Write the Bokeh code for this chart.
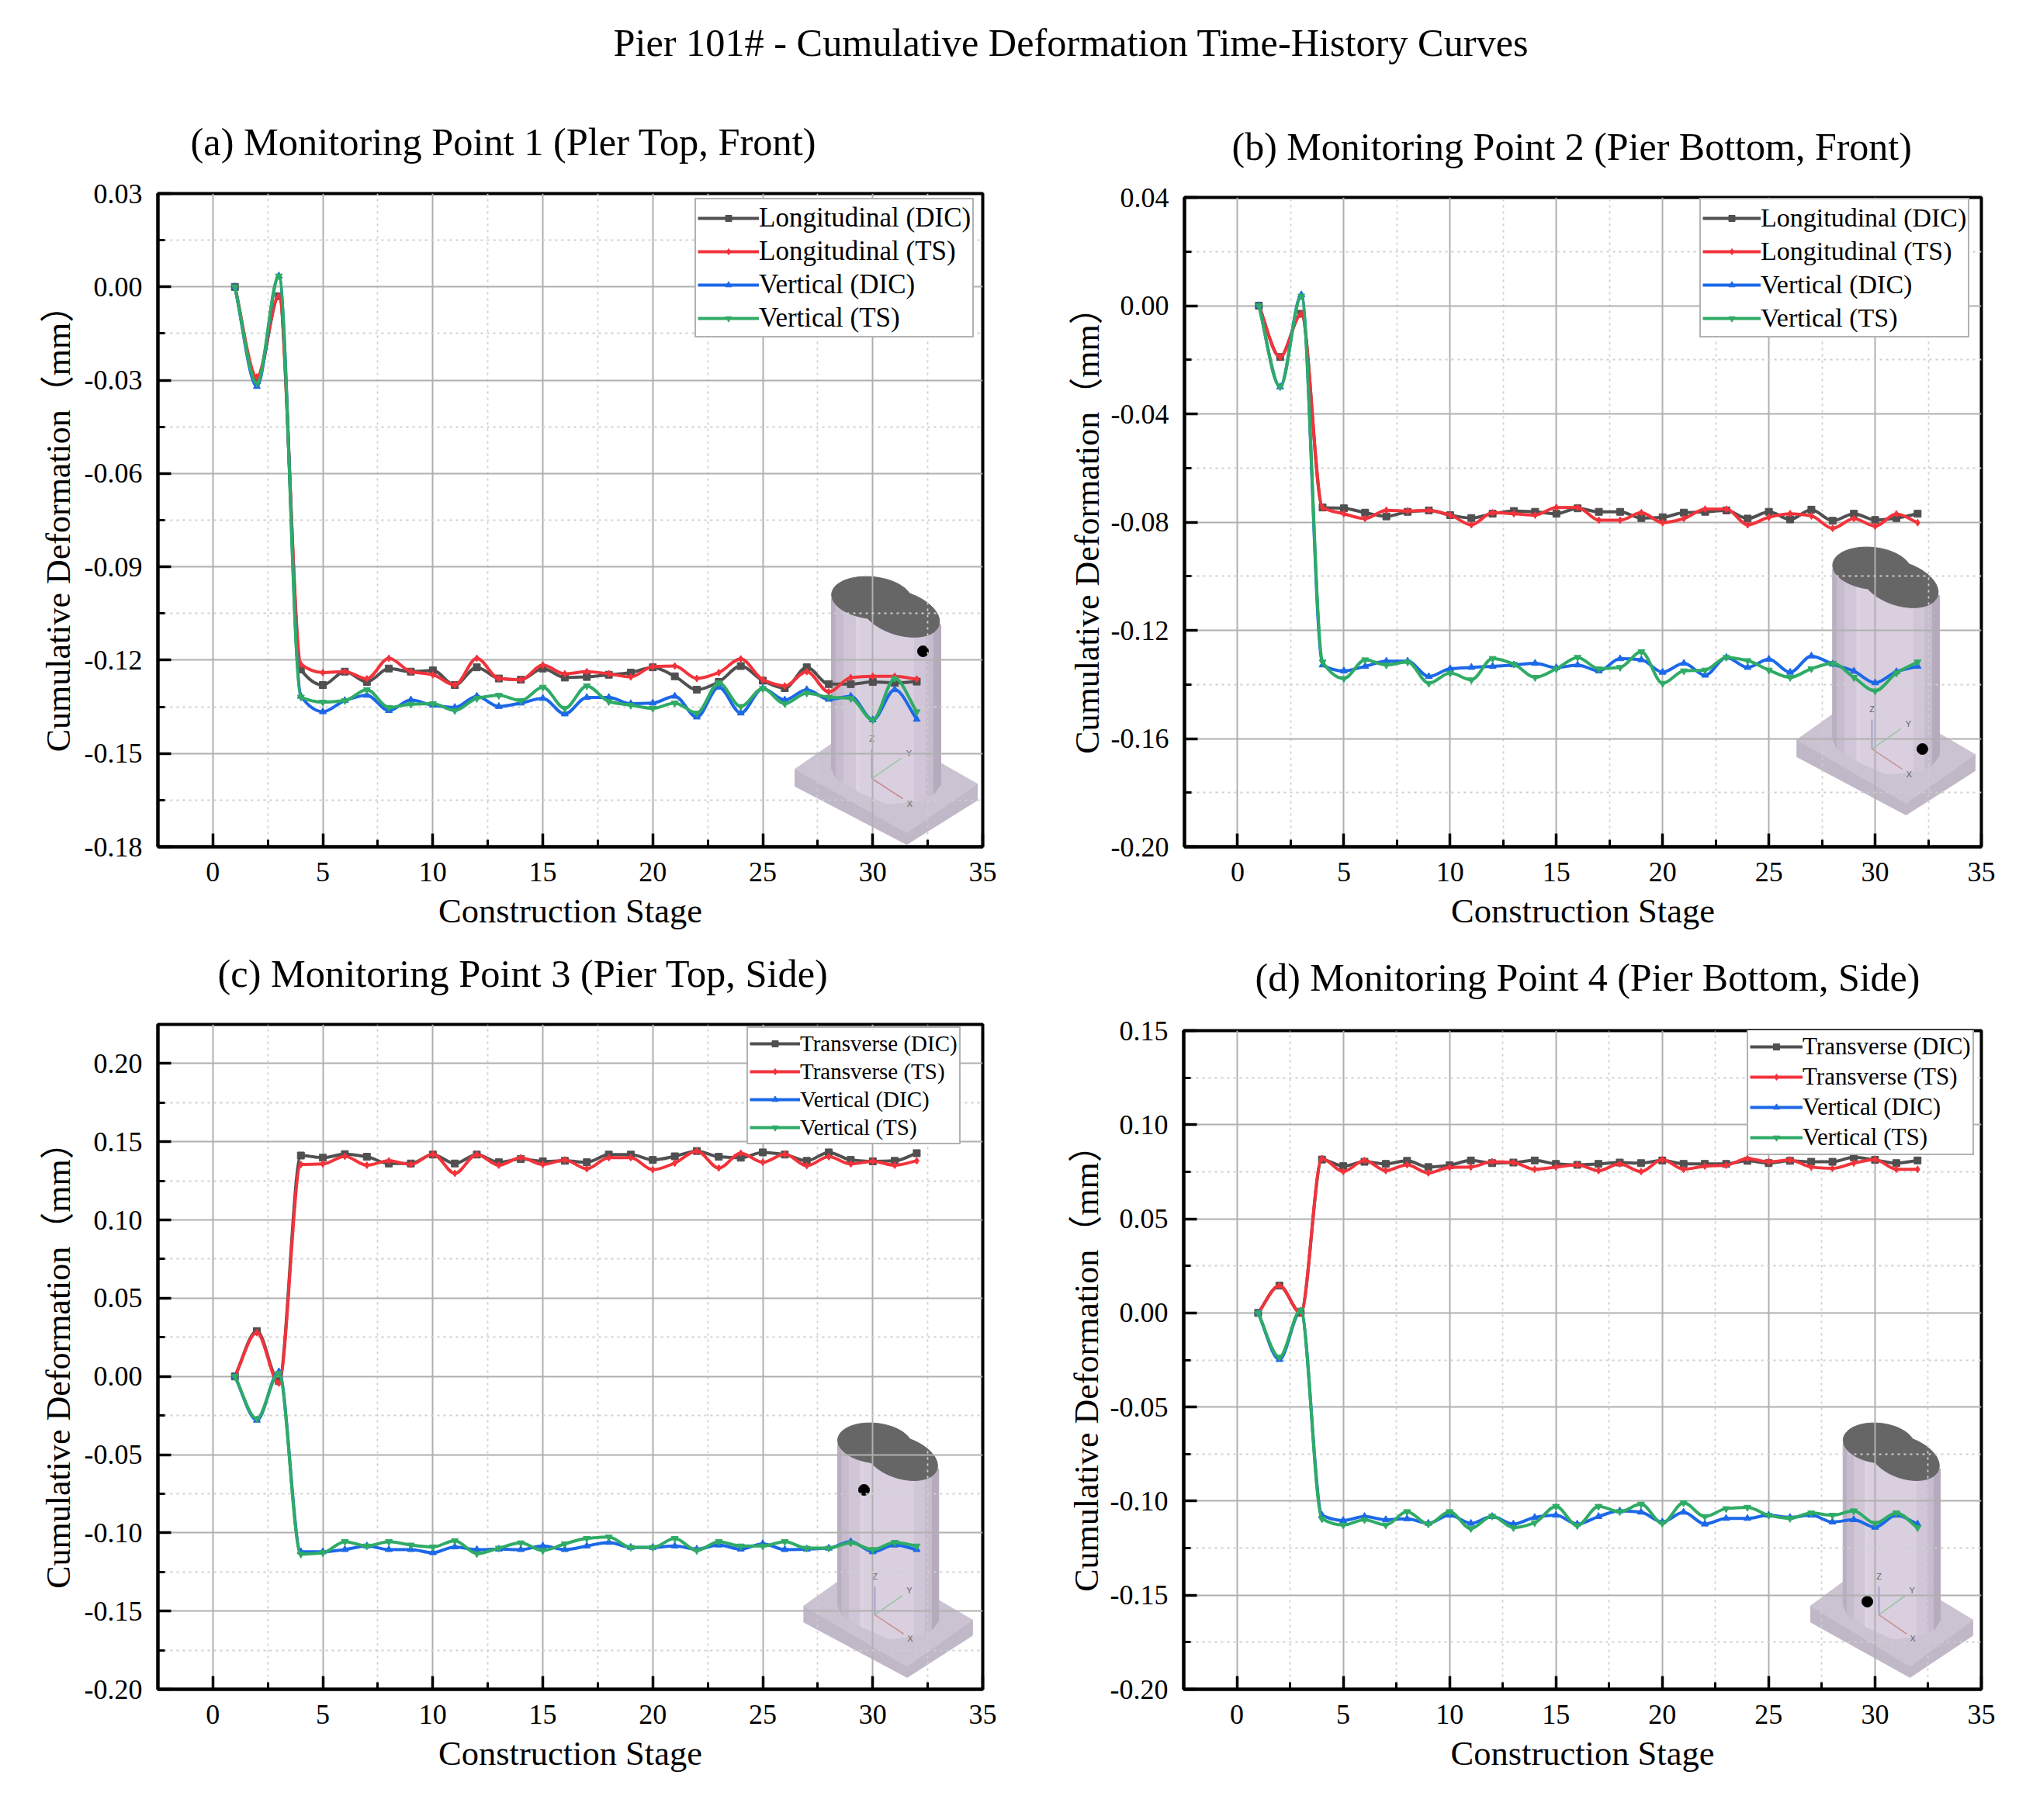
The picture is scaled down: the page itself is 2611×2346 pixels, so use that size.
import numpy as np
from bokeh.core.properties import value
from bokeh.embed import file_html
from bokeh.layouts import column, row
from bokeh.models import (ColumnDataSource, FixedTicker, Label, Legend, LegendItem,
                          NumeralTickFormatter, Range1d)
from bokeh.plotting import figure
from bokeh.resources import INLINE

main_title = "Pier 101# - Cumulative Deformation Time-History Curves"
title_a = "(a) Monitoring Point 1 (Pler Top, Front)"
title_b = "(b) Monitoring Point 2 (Pier Bottom, Front)"
title_c = "(c) Monitoring Point 3 (Pier Top, Side)"
title_d = "(d) Monitoring Point 4 (Pier Bottom, Side)"
x_label = "Construction Stage"
y_label = "Cumulative Deformation（mm）"
stages = list(range(1, 33))
x_ticks = [0, 5, 10, 15, 20, 25, 30, 35]
x_minor = [2.5, 7.5, 12.5, 17.5, 22.5, 27.5, 32.5]

# Panel (a)
a_ticks = [-0.18, -0.15, -0.12, -0.09, -0.06, -0.03, 0.00, 0.03]
a_minor = [-0.165, -0.135, -0.105, -0.075, -0.045, -0.015, 0.015]
a_names = ["Longitudinal (DIC)", "Longitudinal (TS)", "Vertical (DIC)", "Vertical (TS)"]
a_s1 = [0, -.030, -.003, -.1230, -.1280, -.1237, -.1270, -.1227, -.1237, -.1233, -.1280, -.1223, -.1259, -.1263, -.1227, -.1256, -.1254, -.1247, -.1240, -.1223, -.1252, -.1295, -.1270, -.1219, -.1266, -.1290, -.1223, -.1277, -.1277, -.1270, -.1273, -.1269]
a_s2 = [0, -.029, -.003, -.1213, -.1240, -.1237, -.1260, -.1194, -.1237, -.1247, -.1280, -.1194, -.1259, -.1263, -.1216, -.1244, -.1237, -.1244, -.1254, -.1221, -.1219, -.1259, -.1240, -.1196, -.1263, -.1283, -.1237, -.1302, -.1256, -.1252, -.1252, -.1261]
a_s3 = [0, -.032, .0035, -.1316, -.1366, -.1330, -.1313, -.1362, -.1328, -.1345, -.1352, -.1316, -.1349, -.1338, -.1323, -.1373, -.1320, -.1320, -.1340, -.1338, -.1316, -.1383, -.1287, -.1370, -.1291, -.1328, -.1295, -.1326, -.1316, -.1392, -.1295, -.1390]
a_s4 = [0, -.031, .0035, -.1319, -.1335, -.1330, -.1295, -.1352, -.1342, -.1340, -.1362, -.1323, -.1313, -.1330, -.1287, -.1355, -.1283, -.1333, -.1345, -.1355, -.1338, -.1370, -.1273, -.1349, -.1291, -.1340, -.1306, -.1319, -.1323, -.1392, -.1259, -.1366]

# Panel (b)
b_ticks = [-0.20, -0.16, -0.12, -0.08, -0.04, 0.00, 0.04]
b_minor = [-0.18, -0.14, -0.10, -0.06, -0.02, 0.02]
b_names = a_names
b_s1 = [0, -.019, -.003, -.0746, -.0749, -.0765, -.0779, -.0762, -.0757, -.0774, -.0785, -.0769, -.0759, -.0762, -.0769, -.0749, -.0762, -.0762, -.0785, -.0782, -.0765, -.0762, -.0757, -.0787, -.0762, -.0790, -.0754, -.0795, -.0769, -.0792, -.0785, -.0769]
b_s2 = [0, -.019, -.003, -.0746, -.0769, -.0787, -.0756, -.0759, -.0757, -.0774, -.0810, -.0765, -.0769, -.0774, -.0746, -.0746, -.0793, -.0793, -.0765, -.0802, -.0787, -.0752, -.0752, -.0810, -.0782, -.0769, -.0777, -.0823, -.0787, -.0815, -.0770, -.0802]
b_s3 = [0, -.030, .004, -.1328, -.1350, -.1333, -.1314, -.1314, -.1371, -.1342, -.1337, -.1333, -.1328, -.1322, -.1338, -.1328, -.1350, -.1305, -.1309, -.1355, -.1322, -.1366, -.1300, -.1337, -.1307, -.1355, -.1295, -.1325, -.1351, -.1394, -.1353, -.1333]
b_s4 = [0, -.030, .0035, -.1317, -.1378, -.1309, -.1328, -.1317, -.1396, -.1358, -.1383, -.1304, -.1325, -.1374, -.1342, -.1300, -.1342, -.1337, -.1279, -.1396, -.1350, -.1347, -.1300, -.1312, -.1347, -.1374, -.1342, -.1322, -.1374, -.1424, -.1358, -.1317]

# Panel (c)
c_ticks = [-0.20, -0.15, -0.10, -0.05, 0.00, 0.05, 0.10, 0.15, 0.20]
c_minor = [-0.175, -0.125, -0.075, -0.025, 0.025, 0.075, 0.125, 0.175]
c_names = ["Transverse (DIC)", "Transverse (TS)", "Vertical (DIC)", "Vertical (TS)"]
c_s1 = [0, .029, -.003, .1412, .1398, .1421, .1404, .1361, .1361, .1418, .1361, .1418, .1369, .1389, .1375, .1378, .1369, .1418, .1418, .1384, .1407, .1441, .1404, .1398, .1432, .1418, .1378, .1432, .1384, .1375, .1378, .1427]
c_s2 = [0, .028, -.0043, .1355, .1358, .1407, .1350, .1378, .1355, .1421, .1298, .1418, .1350, .1398, .1355, .1384, .1327, .1398, .1398, .1321, .1364, .1441, .1332, .1427, .1369, .1421, .1347, .1404, .1358, .1375, .1350, .1378]
c_s3 = [0, -.028, .003, -.1121, -.1121, -.1107, -.1084, -.1107, -.1107, -.1127, -.1090, -.1107, -.1104, -.1107, -.1084, -.1107, -.1084, -.1061, -.1093, -.1093, -.1084, -.1104, -.1078, -.1104, -.1070, -.1107, -.1104, -.1098, -.1056, -.1121, -.1078, -.1107]
c_s4 = [0, -.027, .002, -.1136, -.1127, -.1056, -.1084, -.1056, -.1078, -.1090, -.1050, -.1133, -.1098, -.1064, -.1113, -.1070, -.1036, -.1027, -.1093, -.1093, -.1036, -.1113, -.1056, -.1084, -.1084, -.1056, -.1098, -.1098, -.1064, -.1107, -.1061, -.1084]

# Panel (d)
d_ticks = [-0.20, -0.15, -0.10, -0.05, 0.00, 0.05, 0.10, 0.15]
d_minor = [-0.175, -0.125, -0.075, -0.025, 0.025, 0.075, 0.125]
d_names = c_names
d_s1 = [0, .0145, 0, .0815, .0780, .0803, .0792, .0808, .0775, .0785, .0810, .0796, .0799, .0810, .0792, .0787, .0792, .0799, .0796, .0810, .0792, .0792, .0792, .0808, .0796, .0808, .0803, .0803, .0827, .0813, .0796, .0810]
d_s2 = [0, .0145, 0, .0820, .0751, .0810, .0756, .0787, .0744, .0773, .0775, .0803, .0799, .0763, .0775, .0787, .0756, .0792, .0751, .0815, .0763, .0780, .0785, .0820, .0803, .0813, .0775, .0768, .0796, .0815, .0763, .0763]
d_s3 = [0, -.0248, .001, -.1075, -.1103, -.1082, -.1099, -.1094, -.1118, -.1075, -.1118, -.1082, -.1122, -.1087, -.1075, -.1122, -.1082, -.1052, -.1059, -.1111, -.1059, -.1122, -.1092, -.1092, -.1075, -.1087, -.1075, -.1111, -.1099, -.1139, -.1075, -.1122]
d_s4 = [0, -.0235, .0015, -.1094, -.1127, -.1099, -.1127, -.1056, -.1122, -.1056, -.1146, -.1080, -.1141, -.1115, -.1028, -.1130, -.1028, -.1056, -.1016, -.1118, -.1009, -.1082, -.1040, -.1033, -.1075, -.1092, -.1063, -.1075, -.1052, -.1118, -.1063, -.1141]

COLORS = ["#505050", "#f2333b", "#1c68e8", "#2fab66"]
MARKERS = ["square", "diamond", "triangle", "inverted_triangle"]
SERIF = "Liberation Serif"
BODY_BOTTOM_X = [-52, -46, -17, 20, 63, 80, 89]
BODY_BOTTOM_Y = [-13, 0, 17, 33, 28, 20, 8]
BODY_TOP_X = [-52, 89]
BODY_TOP_Y = [-232, -198]
BODY_BANDS = [(-52, -46, "#b9afc1"), (-46, -36, "#c6bccd"), (-36, -20, "#d0c6d7"),
              (-20, -15, "#ddd4e2"), (-15, 55, "#d9cfdf"), (55, 70, "#d0c6d7"),
              (70, 80, "#c6bccd"), (80, 89, "#b5abbd")]


def smooth_segments(xs, ys):
    """Control points of a shape-preserving cubic between the read values."""
    xs = np.asarray(xs, float)
    ys = np.asarray(ys, float)
    d = np.diff(ys)
    m = np.zeros_like(ys)
    m[0], m[-1] = d[0], d[-1]
    for i in range(1, len(ys) - 1):
        if d[i - 1] * d[i] > 0:
            m[i] = 2 * d[i - 1] * d[i] / (d[i - 1] + d[i])
    return dict(x0=xs[:-1], y0=ys[:-1], x1=xs[1:], y1=ys[1:],
                cx0=xs[:-1] + 1 / 3, cy0=ys[:-1] + m[:-1] / 3,
                cx1=xs[1:] - 1 / 3, cy1=ys[1:] - m[1:] / 3)


def draw_pier(p, frame, xr, yr, origin, sx, sy, dot):
    fl, ft, fw, fh = frame

    def X(px):
        return xr[0] + (origin[0] + np.asarray(px, float) * sx - fl) / fw * (xr[1] - xr[0])

    def Y(py):
        return yr[1] - (origin[1] + np.asarray(py, float) * sy - ft) / fh * (yr[1] - yr[0])

    def poly(xs, ys, color):
        p.patch(X(xs), Y(ys), fill_color=color, line_color=color, line_width=1, level="image")

    poly([-99, -99, 45, 136, 136, 45], [-12, 10, 85, 28, 7, 70], "#c0b7c7")
    poly([-99, -8, 136, 45], [-12, -75, 7, 70], "#cbc2d2")
    for x0, x1, col in BODY_BANDS:
        bx = np.linspace(x0, x1, 12)
        by = np.interp(bx, BODY_BOTTOM_X, BODY_BOTTOM_Y)
        ty = np.interp([x0, x1], BODY_TOP_X, BODY_TOP_Y)
        poly(np.concatenate(([x0], bx, [x1])), np.concatenate(([ty[0]], by, [ty[1]])), col)
    t = np.linspace(0, 2 * np.pi, 72)
    for cx, cy, ra, rb, ang in [(0, -233, 52, 27, 0.10), (37, -213, 52, 28, 0.30)]:
        xs = cx + ra * np.cos(t) * np.cos(ang) - rb * np.sin(t) * np.sin(ang)
        ys = cy + ra * np.cos(t) * np.sin(ang) + rb * np.sin(t) * np.cos(ang)
        poly(xs, ys, "#666666")
    for ex, ey, col in [(0, -38, "#8f92c9"), (38, -26, "#8fc79a"), (40, 26, "#c98a8a")]:
        p.line(X([0, ex]), Y([0, ey]), line_color=col, line_width=1.5, level="image")
    for tx, ty, txt in [(0, -52, "Z"), (48, -33, "Y"), (49, 32, "X")]:
        p.text(X([tx]), Y([ty]), text=[txt], text_font=value("Liberation Sans"), text_font_size="11px",
               text_color="#666666", text_align="center", text_baseline="middle", level="image")
    p.circle(X([dot[0] / sx]), Y([dot[1] / sy]), radius=7, radius_units="screen", fill_color="black",
             line_color="black", level="image")


def panel(names, series, ticks, minor, ylim, layout):
    left, right, top, bottom, fw, fh = layout["box"]
    p = figure(width=left + fw + right, height=top + fh + bottom, output_backend="svg",
               toolbar_location=None, x_range=Range1d(-2.5, 35), y_range=Range1d(*ylim),
               min_border_left=left, min_border_right=right, min_border_top=top,
               min_border_bottom=bottom, background_fill_color="white", border_fill_color="white",
               x_axis_label=x_label, y_axis_label=y_label)
    p.outline_line_color = "black"
    p.outline_line_width = 4
    for ax, tk, mn in ((p.xaxis[0], x_ticks, x_minor), (p.yaxis[0], ticks, minor)):
        ax.ticker = FixedTicker(ticks=tk, minor_ticks=mn)
        ax.axis_line_color = "black"
        ax.axis_line_width = 4
        ax.major_tick_in = 17
        ax.major_tick_out = 0
        ax.minor_tick_in = 9
        ax.minor_tick_out = 0
        ax.major_tick_line_width = 3.5
        ax.minor_tick_line_width = 3
        ax.major_tick_line_color = "black"
        ax.minor_tick_line_color = "black"
        ax.major_label_text_font = SERIF
        ax.major_label_text_font_size = "36px"
        ax.major_label_text_color = "black"
        ax.axis_label_text_font = SERIF + ", Noto Sans CJK SC"
        ax.axis_label_text_font_style = "normal"
        ax.axis_label_text_color = "black"
    p.xaxis[0].axis_label_text_font_size = "44.5px"
    p.yaxis[0].axis_label_text_font_size = "44px"
    p.xaxis[0].major_label_standoff = 20
    p.yaxis[0].major_label_standoff = 20
    p.xaxis[0].axis_label_standoff = 10
    p.yaxis[0].axis_label_standoff = layout["ylabel_standoff"]
    p.yaxis[0].formatter = NumeralTickFormatter(format="0.00")
    for grid in (p.xgrid[0], p.ygrid[0]):
        grid.grid_line_color = "#b0b0b0"
        grid.grid_line_width = 2.0
        grid.minor_grid_line_color = "#cfcfcf"
        grid.minor_grid_line_width = 1.8
        grid.minor_grid_line_dash = "3 5"

    frame = (layout["fx"], layout["fy"], fw, fh)
    draw_pier(p, frame, (-2.5, 35), ylim, layout["origin"], layout["sx"], layout["sy"], layout["dot"])

    items = []
    for name, ys, col, mk in zip(names, series, COLORS, MARKERS):
        src = ColumnDataSource(smooth_segments(stages, ys))
        cv = p.bezier(x0="x0", y0="y0", x1="x1", y1="y1", cx0="cx0", cy0="cy0", cx1="cx1", cy1="cy1",
                      source=src, line_color=col, line_width=4.0)
        sc = p.scatter(stages, ys, marker=mk, size=9, fill_color=col, line_color=col)
        items.append(LegendItem(label=name, renderers=[cv, sc]))
    lg = Legend(items=items, location=layout["lg_loc"], orientation="vertical", margin=0, padding=layout["lg_pad"],
                spacing=0, glyph_width=layout["lg_glyph"], glyph_height=20, label_height=layout["lg_row"],
                label_standoff=layout["lg_standoff"], label_text_font=SERIF, label_text_font_size=layout["lg_font"],
                label_text_color="black", label_text_baseline="middle", border_line_color="#666666",
                border_line_width=2.5, background_fill_color="white", background_fill_alpha=1.0)
    p.add_layout(lg)
    return p


def strip(height, labels):
    s = figure(width=2603, height=height, output_backend="svg", toolbar_location=None, x_axis_type=None,
               y_axis_type=None, x_range=Range1d(0, 1), y_range=Range1d(0, 1), min_border=0, outline_line_color=None)
    s.grid.visible = False
    for txt, x, y, size, align in labels:
        s.add_layout(Label(x=x, y=y, x_units="screen", y_units="screen", text=txt, text_font=SERIF,
                           text_font_size=size, text_color="black", text_align=align, text_baseline="middle"))
    return s


a = panel(a_names, [a_s1, a_s2, a_s3, a_s4], a_ticks, a_minor, (-0.18, 0.03),
          dict(box=(203, 82, 29, 114, 1063, 842), fx=203, fy=249,
               ylabel_standoff=6, origin=(1123, 1003), sx=1.0, sy=1.0, dot=(66, -164),
               lg_loc=(692, 656), lg_pad=2, lg_glyph=79, lg_row=43, lg_standoff=0, lg_font="35px"))
b = panel(b_names, [b_s1, b_s2, b_s3, b_s4], b_ticks, b_minor, (-0.20, 0.04),
          dict(box=(178, 50, 34, 114, 1027, 837), fx=1526, fy=254,
               ylabel_standoff=3, origin=(2412, 965), sx=0.977, sy=1.0, dot=(65, 0),
               lg_loc=(664, 656), lg_pad=2, lg_glyph=75, lg_row=43, lg_standoff=0, lg_font="34px"))
c = panel(c_names, [c_s1, c_s2, c_s3, c_s4], c_ticks, c_minor, (-0.20, 0.225),
          dict(box=(203, 82, 25, 123, 1063, 857), fx=203, fy=1320,
               ylabel_standoff=6, origin=(1127, 2081), sx=0.925, sy=0.95, dot=(-14, -161),
               lg_loc=(759, 702), lg_pad=2, lg_glyph=65, lg_row=36, lg_standoff=0, lg_font="29px"))
d = panel(d_names, [d_s1, d_s2, d_s3, d_s4], d_ticks, d_minor, (-0.20, 0.15),
          dict(box=(177, 50, 33, 123, 1028, 849), fx=1525, fy=1328,
               ylabel_standoff=3, origin=(2421, 2081), sx=0.89, sy=0.95, dot=(-15, -17),
               lg_loc=(726, 688), lg_pad=2, lg_glyph=68, lg_row=39, lg_standoff=0, lg_font="31px"))

head = strip(220, [(main_title, 1380, 166, "50.3px", "center"),
                   (title_a, 245, 38, "50.4px", "left"),
                   (title_b, 1587, 32, "50px", "left")])
mid = strip(90, [(title_c, 280, 41, "50.4px", "left"),
                 (title_d, 1617, 36, "50px", "left")])

page = column(head, row(column(a), column(b), spacing=0), mid, row(column(c), column(d), spacing=0), spacing=0)
open("out.html", "w").write(file_html(page, INLINE))
